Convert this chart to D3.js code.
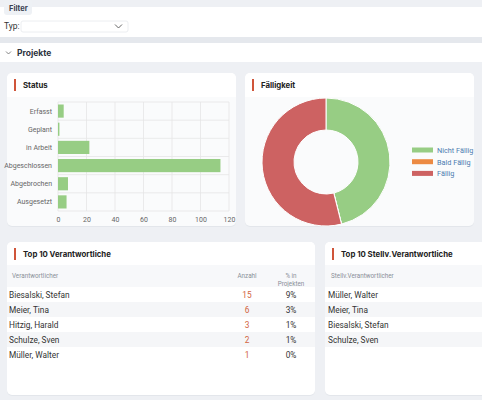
<!DOCTYPE html>
<html>
<head>
<meta charset="utf-8">
<script src="https://cdn.jsdelivr.net/npm/d3@7"></script>
<style>
  body { margin: 0; background: #eef0f4; font-family: Roboto, "Noto Sans", sans-serif; }
  svg { display: block; }
  .title { font-family: Inter, "Noto Sans", sans-serif; font-weight: 700; }
</style>
</head>
<body>
<svg id="page" width="482" height="400"></svg>
<script>
// status chart
var statusNames = ["Erfasst", "Geplant", "in Arbeit", "Abgeschlossen", "Abgebrochen", "Ausgesetzt"];
var statusValues = [4, 1, 22, 114, 7, 6];
var statusTicks = [0, 20, 40, 60, 80, 100, 120];

// due chart
var dueNames = ["Nicht Fällig", "Bald Fällig", "Fällig"];
var dueValues = [71, 0, 83];
var dueColors = ["#97cd84", "#ec8a43", "#cd6262"];

// tables
var respNames = ["Biesalski, Stefan", "Meier, Tina", "Hitzig, Harald", "Schulze, Sven", "Müller, Walter"];
var respCounts = [15, 6, 3, 2, 1];
var respPercent = ["9%", "3%", "1%", "1%", "0%"];
var deputyNames = ["Müller, Walter", "Meier, Tina", "Biesalski, Stefan", "Schulze, Sven"];

var svg = d3.select("#page");
var red = "#d0553a";

// ---- top filter area
svg.append("rect").attr("x", 0).attr("y", 7).attr("width", 482).attr("height", 30).attr("fill", "#fff");
svg.append("rect").attr("x", 4).attr("y", 0).attr("width", 28).attr("height", 15).attr("rx", 3).attr("fill", "#eef1f5");
svg.append("text").attr("class", "title").attr("x", 9).attr("y", 11).text("Filter")
    .attr("font-size", "7.5px").attr("fill", "#3a4150");
svg.append("text").attr("x", 4).attr("y", 29).text("Typ:")
    .attr("font-size", "8.5px").attr("fill", "#333");
svg.append("rect").attr("x", 21).attr("y", 21).attr("width", 107).attr("height", 11).attr("rx", 2)
    .attr("fill", "#fff").attr("stroke", "#eceef1");
svg.append("path").attr("d", "M115 24.5 L118.5 28 L122 24.5").attr("fill", "none").attr("stroke", "#555").attr("stroke-width", 0.9);

svg.append("rect").attr("x", 0).attr("y", 37).attr("width", 482).attr("height", 6).attr("fill", "#e5e8ed");
svg.append("rect").attr("x", 0).attr("y", 43).attr("width", 482).attr("height", 19).attr("fill", "#fff");
svg.append("path").attr("d", "M6 51.5 L8.5 54 L11 51.5").attr("fill", "none").attr("stroke", "#666").attr("stroke-width", 0.8);
svg.append("text").attr("class", "title").attr("x", 17).attr("y", 56).text("Projekte")
    .attr("font-size", "8.5px").attr("fill", "#2d3340");

// card with a header strip
function card(x, y, w, h, title, bodyFill){
    var g = svg.append("g").attr("transform", "translate(" + x + "," + y + ")");
    g.append("rect").attr("x", 0).attr("y", 1).attr("width", w).attr("height", h).attr("rx", 5).attr("fill", "#e3e6eb");
    g.append("rect").attr("width", w).attr("height", h).attr("rx", 5).attr("fill", bodyFill);
    g.append("path").attr("d", "M0 5 A5 5 0 0 1 5 0 L" + (w - 5) + " 0 A5 5 0 0 1 " + w + " 5 L" + w + " 24 L0 24 Z").attr("fill", "#fff");
    g.append("rect").attr("x", 7).attr("y", 6).attr("width", 2).attr("height", 12).attr("fill", red);
    g.append("text").attr("class", "title").attr("x", 16).attr("y", 15).text(title)
        .attr("font-size", "7.8px").attr("fill", "#222");
    return g;
}

// ---- status bar chart
card(7, 73, 229, 153, "Status", "#fafbfc");
var x = d3.scaleLinear().domain([0, 120]).range([58, 229]);
var y = d3.scaleBand().domain(statusNames).range([102, 211]);

var sg = svg.append("g");
sg.selectAll(".vgrid").data(statusTicks).enter().append("line")
    .attr("x1", function(d){ return x(d); }).attr("x2", function(d){ return x(d); })
    .attr("y1", 102).attr("y2", 211).attr("stroke", "#e6e6e6").attr("stroke-width", 0.8);
sg.selectAll(".hgrid").data(d3.range(statusNames.length + 1)).enter().append("line")
    .attr("x1", 58).attr("x2", 229)
    .attr("y1", function(i){ return 102 + i * y.step(); }).attr("y2", function(i){ return 102 + i * y.step(); })
    .attr("stroke", "#e6e6e6").attr("stroke-width", 0.8);
sg.selectAll(".bar").data(statusValues).enter().append("rect")
    .attr("x", x(0))
    .attr("y", function(d, i){ return y(statusNames[i]) + 2.5; })
    .attr("width", function(d){ return x(d) - x(0); })
    .attr("height", y.bandwidth() - 5)
    .attr("fill", "#97cd84");
sg.selectAll(".ylab").data(statusNames).enter().append("text")
    .attr("x", 52).attr("y", function(d){ return y(d) + y.bandwidth() / 2 + 2.5; })
    .attr("text-anchor", "end").text(function(d){ return d; })
    .attr("font-size", "7px").attr("fill", "#666");
var ax = sg.append("g").attr("transform", "translate(0,211)")
    .call(d3.axisBottom(x).tickValues(statusTicks).tickSize(0).tickPadding(6));
ax.select(".domain").remove();
ax.selectAll("text").attr("font-size", "7px").attr("fill", "#666").attr("font-family", "Roboto, sans-serif");

// ---- due donut
card(245, 73, 229, 153, "Fälligkeit", "#fafbfc");
var pie = d3.pie().sort(null).value(function(d){ return d; });
var arc = d3.arc().innerRadius(32).outerRadius(64);
var dg = svg.append("g").attr("transform", "translate(326,162)");
dg.selectAll("path").data(pie(dueValues)).enter().append("path")
    .attr("d", arc)
    .attr("fill", function(d, i){ return dueColors[i]; })
    .attr("stroke", "#fff").attr("stroke-width", 1);
var lg = svg.append("g").attr("transform", "translate(412,147.5)");
dueNames.forEach(function(n, i){
    lg.append("rect").attr("x", 0).attr("y", i * 11.7).attr("width", 21).attr("height", 5).attr("fill", dueColors[i]);
    lg.append("text").attr("x", 25).attr("y", i * 11.7 + 5.3).text(n)
        .attr("font-size", "7.3px").attr("fill", "#4a7bb0");
});

// ---- tables
function table(x0, w, title, cols, rows){
    var g = card(x0, 242, w, 153, title, "#fff");
    g.append("rect").attr("x", 0).attr("y", 23).attr("width", w).attr("height", 22).attr("fill", "#f7f8fa");
    cols.forEach(function(c){
        c.label.forEach(function(t, k){
            g.append("text").attr("x", c.x).attr("y", 36 + k * 8).text(t)
                .attr("text-anchor", c.anchor).attr("font-size", "6.3px").attr("fill", "#8a8f98");
        });
    });
    var rg = g.selectAll(".row").data(rows).enter().append("g")
        .attr("transform", function(d, i){ return "translate(0," + (45 + i * 15) + ")"; });
    rg.append("rect").attr("width", w).attr("height", 15)
        .attr("fill", function(d, i){ return i % 2 ? "#f5f6f8" : "#fff"; });
    cols.forEach(function(c, j){
        rg.append("text").attr("x", c.cx === undefined ? c.x - 3 : c.cx).attr("y", 10.5)
            .attr("text-anchor", c.anchor)
            .text(function(d){ return d[j]; })
            .attr("font-size", "8.3px")
            .attr("fill", c.color || "#333");
    });
}

table(7, 308, "Top 10 Verantwortliche", [
    {label: ["Verantwortlicher"], x: 5, cx: 2, anchor: "start"},
    {label: ["Anzahl"], x: 240, cx: 240, anchor: "middle", color: "#d2643e"},
    {label: ["% in", "Projekten"], x: 284, cx: 284, anchor: "middle"}
], respNames.map(function(n, i){ return [n, respCounts[i], respPercent[i]]; }));

table(325, 170, "Top 10 Stellv.Verantwortliche", [
    {label: ["Stellv.Verantwortlicher"], x: 6, cx: 3, anchor: "start"}
], deputyNames.map(function(n){ return [n]; }));
</script>
</body>
</html>
